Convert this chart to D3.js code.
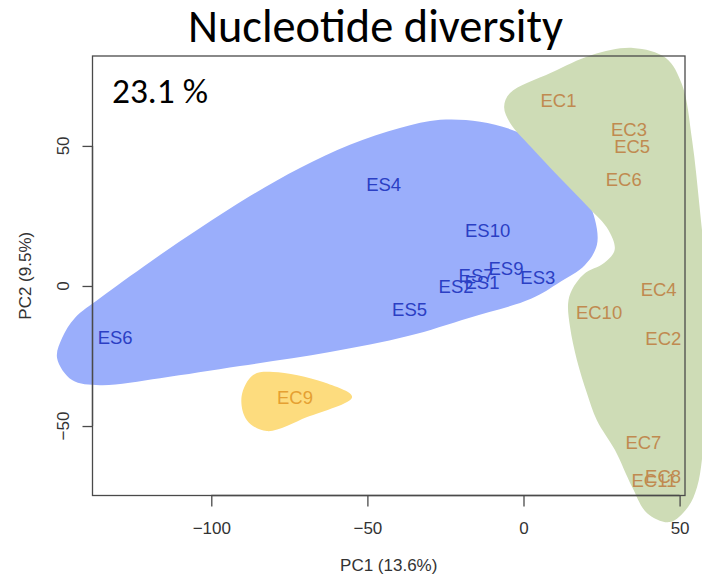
<!DOCTYPE html>
<html>
<head>
<meta charset="utf-8">
<script src="https://cdn.jsdelivr.net/npm/d3@7"></script>
<style>
  body { margin: 0; background: #fff; }
  svg { display: block; }
</style>
</head>
<body>
<script>
// ---- PCA scores (PC1, PC2) per sample ----
const esNames = ["ES1", "ES2", "ES3", "ES4", "ES5", "ES6", "ES7", "ES9", "ES10"];
const esPC1   = [-13.3, -21.6, 4.6, -44.8, -36.5, -130.8, -15.2, -5.6, -11.5];
const esPC2   = [1.4, 0.0, 3.2, 36.4, -8.4, -18.4, 3.9, 6.4, 19.8];

const ecNames = ["EC1", "EC2", "EC3", "EC4", "EC5", "EC6", "EC7", "EC8", "EC10", "EC11"];
const ecPC1   = [11.2, 44.8, 33.8, 43.3, 34.8, 32.1, 38.4, 44.7, 24.2, 41.8];
const ecPC2   = [66.3, -18.8, 55.8, -1.3, 50.0, 38.2, -55.9, -68.0, -9.5, -69.5];

const ec9Names = ["EC9"];
const ec9PC1   = [-73.2];
const ec9PC2   = [-39.6];

// ---- smoothed group outlines (PC1, PC2) ----
const esHullPC1 = [-149.4, -147.8, -143.7, -135.6, -119.6, -103.6, -87.6, -71.6, -55.6, -39.6, -26.7, -13.9, -1.1, 10.1, 18.1, 22.9, 23.5, 19.7, 11.7, 2.4, -17.5, -37.0, -62.0, -90.8, -116.4, -135.6, -144.6];
const esHullPC2 = [-25.7, -18.6, -11.4, -4.3, 8.6, 20.7, 32.1, 42.1, 50.4, 56.4, 59.3, 58.6, 54.6, 46.8, 36.1, 23.6, 14.6, 7.5, 1.4, -4.6, -11.4, -17.9, -23.6, -28.6, -32.9, -35.4, -33.6];

const ecHullPC1 = [35.1, 45.6, 50.8, 54.0, 56.5, 59.1, 59.1, 57.5, 55.6, 52.7, 46.9, 39.6, 34.8, 29.3, 23.5, 20.3, 17.1, 14.9, 14.3, 15.5, 19.4, 25.8, 29.2, 27.2, 20.7, 11.4, 2.4, -4.3, -6.2, -4.3, 8.8, 21.9];
const ecHullPC2 = [85.0, 81.4, 71.8, 52.1, 27.1, -5.0, -33.6, -58.6, -71.8, -78.9, -84.3, -81.1, -71.8, -58.6, -47.9, -38.2, -26.4, -14.6, -6.1, -1.4, 4.3, 8.2, 12.9, 20.0, 28.2, 38.9, 49.6, 58.2, 63.9, 68.9, 76.1, 82.5];

const ec9HullPC1 = [-90.3, -86.6, -80.2, -64.2, -54.9, -69.3, -82.2, -88.6];
const ec9HullPC2 = [-39.5, -31.8, -30.7, -34.3, -39.6, -46.8, -51.8, -47.9];

// ---- axes ----
const xTicks = [-100, -50, 0, 50];
const yTicks = [-50, 0, 50];
const xTitle = "PC1 (13.6%)";
const yTitle = "PC2 (9.5%)";
const chartTitle = "Nucleotide diversity";
const percentLabel = "23.1 %";

const W = 702, H = 583;
const box = { left: 92.5, right: 685, top: 56, bottom: 495.5 };

const svg = d3.select("body").append("svg")
  .attr("width", W).attr("height", H)
  .attr("viewBox", `0 0 ${W} ${H}`);

const x = d3.scaleLinear().domain([-138.05, 51.73]).range([box.left, box.right]);
const y = d3.scaleLinear().domain([-74.8, 82.1]).range([box.bottom, box.top]);

const zip = (a, b) => a.map((v, i) => [v, b[i]]);

const hullLine = d3.line()
  .x(d => x(d[0])).y(d => y(d[1]))
  .curve(d3.curveCatmullRomClosed.alpha(0.5));

// group outlines
const hulls = [
  { pts: zip(esHullPC1, esHullPC2), fill: "#9aaefb" },
  { pts: zip(ecHullPC1, ecHullPC2), fill: "#cedcb6" },
  { pts: zip(ec9HullPC1, ec9HullPC2), fill: "#fddc7e" }
];
svg.append("g").selectAll("path").data(hulls).join("path")
  .attr("d", d => hullLine(d.pts))
  .attr("fill", d => d.fill);

// frame and axes
const axisColor = "#4a4a4a";
svg.append("rect")
  .attr("x", box.left).attr("y", box.top)
  .attr("width", box.right - box.left).attr("height", box.bottom - box.top)
  .attr("fill", "none").attr("stroke", axisColor).attr("stroke-width", 1.3);

const rFont = "'Liberation Sans', Arial, Helvetica, sans-serif";
const fs = 17;
const labelFs = 18.5;

const xAxis = d3.axisBottom(x).tickValues(xTicks).tickSize(11).tickPadding(15)
  .tickFormat(d => d3.format("")(d).replace("-", "\u2212"));
const gx = svg.append("g").attr("transform", `translate(0,${box.bottom})`).call(xAxis);
gx.select(".domain").attr("d", `M${x(xTicks[0])},0H${x(xTicks[xTicks.length - 1])}`);

const yAxis = d3.axisLeft(y).tickValues(yTicks).tickSize(10).tickFormat("");
const gy = svg.append("g").attr("transform", `translate(${box.left},0)`).call(yAxis);
gy.select(".domain").attr("d", `M0,${y(yTicks[0])}V${y(yTicks[yTicks.length - 1])}`);

[gx, gy].forEach(g => {
  g.selectAll(".domain, .tick line").attr("stroke", axisColor).attr("stroke-width", 1.3);
  g.selectAll("text").attr("font-family", rFont).attr("font-size", fs).attr("fill", "#333");
});

// y tick labels, rotated parallel to the axis
svg.append("g").selectAll("text").data(yTicks).join("text")
  .attr("transform", d => `translate(69,${y(d)}) rotate(-90)`)
  .attr("text-anchor", "middle")
  .attr("font-family", rFont).attr("font-size", fs).attr("fill", "#333")
  .text(d => d3.format("")(d).replace("-", "\u2212"));

// axis titles
svg.append("text")
  .attr("x", (box.left + box.right) / 2).attr("y", 571)
  .attr("text-anchor", "middle")
  .attr("font-family", rFont).attr("font-size", fs).attr("fill", "#333")
  .text(xTitle);
svg.append("text")
  .attr("transform", `translate(31,${(box.top + box.bottom) / 2}) rotate(-90)`)
  .attr("text-anchor", "middle")
  .attr("font-family", rFont).attr("font-size", fs).attr("fill", "#333")
  .text(yTitle);

// sample labels
const groups = [
  { names: esNames, p1: esPC1, p2: esPC2, color: "#2b3fc4" },
  { names: ecNames, p1: ecPC1, p2: ecPC2, color: "#c08a50" },
  { names: ec9Names, p1: ec9PC1, p2: ec9PC2, color: "#e5a032" }
];
groups.forEach(g => {
  svg.append("g").selectAll("text")
    .data(g.names.map((n, i) => ({ n, a: g.p1[i], b: g.p2[i] })))
    .join("text")
    .attr("x", d => x(d.a)).attr("y", d => y(d.b) + 0.36 * labelFs)
    .attr("text-anchor", "middle")
    .attr("font-family", rFont).attr("font-size", labelFs)
    .attr("fill", g.color)
    .text(d => d.n);
});

// fit a text element to a target width by scaling its font size
function fitWidth(sel, width) {
  const w = sel.node().getComputedTextLength();
  sel.attr("font-size", parseFloat(sel.attr("font-size")) * width / w);
}

const slideFont = "Carlito, Lato, 'Open Sans', sans-serif";
const title = svg.append("text")
  .attr("x", 375.5).attr("y", 42)
  .attr("text-anchor", "middle")
  .attr("font-family", slideFont).attr("font-size", 40).attr("fill", "#000")
  .text(chartTitle);
fitWidth(title, 375);

const pct = svg.append("text")
  .attr("x", 112).attr("y", 103)
  .attr("font-family", slideFont).attr("font-size", 32).attr("fill", "#000")
  .text(percentLabel);
fitWidth(pct, 96);
</script>
</body>
</html>
